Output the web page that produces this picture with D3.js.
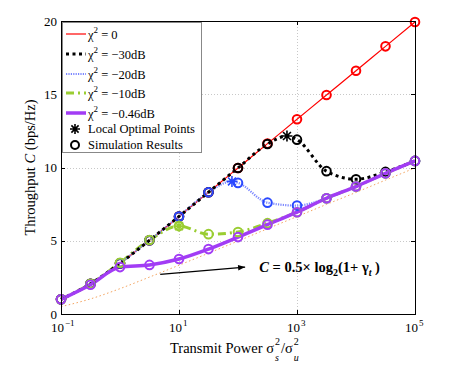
<!DOCTYPE html>
<html>
<head>
<meta charset="utf-8">
<script src="https://cdn.jsdelivr.net/npm/d3@7"></script>
<style>
body { margin: 0; background: #fff; }
text { font-family: "Liberation Serif", "Times New Roman", serif; }
</style>
</head>
<body>
<svg class="chart"></svg>
<script>
// sample points: transmit power (linear), one every half decade
var power = [0.1, 0.316, 1, 3.16, 10, 31.6, 100, 316, 1000, 3162, 10000, 31623, 100000];

// throughput (bps/Hz)
var chi0   = [1.0, 2.06, 3.46, 5.03, 6.66, 8.31, 9.97, 11.63, 13.29, 14.95, 16.6, 18.27, 19.93];
var chi30  = [1.0, 2.06, 3.46, 5.03, 6.66, 8.31, 9.97, 11.6, 11.9, 9.75, 9.2, 9.7, 10.45];
var chi20  = [1.0, 2.06, 3.46, 5.03, 6.66, 8.31, 8.95, 7.6, 7.4, 7.9, 8.7, 9.6, 10.45];
var chi10  = [1.0, 2.06, 3.5, 5.05, 6.0, 5.45, 5.6, 6.2, 6.95, 7.9, 8.7, 9.6, 10.45];
var chi046 = [1.0, 2.0, 3.2, 3.35, 3.75, 4.43, 5.25, 6.1, 6.95, 7.9, 8.7, 9.6, 10.45];
var bound  = [0.5, 1.03, 1.73, 2.52, 3.33, 4.15, 4.98, 5.82, 6.65, 7.48, 8.3, 9.14, 9.97];

// local optimal points (-30dB, -20dB, -10dB)
var optPower = [676, 79, 10];
var optValue = [12.15, 9.05, 6.0];

var yTicks = [0, 5, 10, 15, 20];
var xTicks = [0.1, 10, 1000, 100000];
var xTickExp = ['\u22121', '1', '3', '5'];

var width = 457, height = 367;
var margin = {top: 21, right: 42, bottom: 53, left: 61};
var w = width - margin.left - margin.right,
    h = height - margin.top - margin.bottom;

var svg = d3.select('.chart')
    .attr('width', width)
    .attr('height', height);

var x = d3.scaleLog().domain([0.1, 100000]).range([0, w]),
    y = d3.scaleLinear().domain([0, 20]).range([h, 0]);

var g = svg.append('g')
    .attr('transform', 'translate(' + margin.left + ',' + margin.top + ')');

// grid
g.selectAll('.gx').data(xTicks.slice(1, 3)).enter().append('line')
    .attr('x1', function(d) { return Math.round(x(d)) + 0.5; })
    .attr('x2', function(d) { return Math.round(x(d)) + 0.5; })
    .attr('y1', 0).attr('y2', h)
    .attr('stroke', '#c8c8c8').attr('stroke-dasharray', '1,2');
g.selectAll('.gy').data(yTicks.slice(1, 4)).enter().append('line')
    .attr('y1', function(d) { return Math.round(y(d)) + 0.5; })
    .attr('y2', function(d) { return Math.round(y(d)) + 0.5; })
    .attr('x1', 0).attr('x2', w)
    .attr('stroke', '#c8c8c8').attr('stroke-dasharray', '1,2');

function pts(vals, extra) {
  var p = power.map(function(d, i) { return [d, vals[i]]; });
  if (extra) { p.push(extra); p.sort(function(a, b) { return a[0] - b[0]; }); }
  return p;
}

var line = d3.line()
    .x(function(d) { return x(d[0]); })
    .y(function(d) { return y(d[1]); })
    .curve(d3.curveMonotoneX);

var series = [
  {vals: chi0,   color: '#ff0000', mark: '#ff0000', width: 1.2, dash: null, label: ' = 0'},
  {vals: chi10,  color: '#9acd32', mark: '#9acd32', width: 3, dash: '8,4,2,4', label: ' = \u221210dB', opt: 2},
  {vals: chi20,  color: '#7a86ff', mark: '#2a48ff', width: 2.2, dash: '1.2,1.2', label: ' = \u221220dB', opt: 1},
  {vals: chi30,  color: '#000000', mark: '#000000', width: 3, dash: '3,3.5', label: ' = \u221230dB', opt: 0},
  {vals: chi046, color: '#a23cf5', mark: '#a23cf5', width: 3.5, dash: null, label: ' = \u22120.46dB'}
];

// bound curve
g.append('path')
    .attr('d', line(pts(bound)))
    .attr('fill', 'none').attr('stroke', '#f4a460')
    .attr('stroke-width', 1).attr('stroke-dasharray', '1.5,2.5');

series.forEach(function(s) {
  var extra = s.opt !== undefined ? [optPower[s.opt], optValue[s.opt]] : null;
  g.append('path')
      .attr('d', line(pts(s.vals, extra)))
      .attr('fill', 'none').attr('stroke', s.color)
      .attr('stroke-width', s.width)
      .attr('stroke-dasharray', s.dash);
});

// circles drawn in the figure's plotting order
var order = [0, 3, 2, 1, 4];
order.forEach(function(k) {
  var s = series[k];
  g.selectAll(null).data(pts(s.vals)).enter().append('circle')
      .attr('cx', function(d) { return x(d[0]); })
      .attr('cy', function(d) { return y(d[1]); })
      .attr('r', 4.3)
      .attr('fill', 'none').attr('stroke', s.mark).attr('stroke-width', 2);
});

function star(r) {
  var a = r * 0.72;
  return 'M' + (-r) + ',0L' + r + ',0M0,' + (-r) + 'L0,' + r +
         'M' + (-a) + ',' + (-a) + 'L' + a + ',' + a +
         'M' + (-a) + ',' + a + 'L' + a + ',' + (-a);
}
var starColors = ['#000000', '#2a48ff', '#9acd32'];
g.selectAll('.opt').data(optPower).enter().append('path')
    .attr('transform', function(d, i) { return 'translate(' + x(d) + ',' + y(optValue[i]) + ')'; })
    .attr('d', star(5.5))
    .attr('stroke', function(d, i) { return starColors[i]; })
    .attr('stroke-width', 1.6).attr('fill', 'none');

// axes box and ticks
g.append('rect').attr('x', 0.5).attr('y', 0.5).attr('width', w).attr('height', h)
    .attr('fill', 'none').attr('stroke', '#000').attr('stroke-width', 1);
xTicks.forEach(function(d) {
  var px = Math.round(x(d)) + 0.5;
  g.append('line').attr('x1', px).attr('x2', px).attr('y1', h).attr('y2', h - 4).attr('stroke', '#000');
  g.append('line').attr('x1', px).attr('x2', px).attr('y1', 0).attr('y2', 4).attr('stroke', '#000');
});
yTicks.forEach(function(d) {
  var py = Math.round(y(d)) + 0.5;
  g.append('line').attr('y1', py).attr('y2', py).attr('x1', 0).attr('x2', 4).attr('stroke', '#000');
  g.append('line').attr('y1', py).attr('y2', py).attr('x1', w).attr('x2', w - 4).attr('stroke', '#000');
});

// tick labels
g.selectAll('.yl').data(yTicks).enter().append('text')
    .attr('x', -4).attr('y', function(d) { return y(d) + 4.5; })
    .attr('text-anchor', 'end').attr('font-size', 13)
    .text(function(d) { return d; });

g.selectAll('.xl').data(xTicks).enter().append('text')
    .attr('x', function(d) { return x(d) + 3; })
    .attr('y', h + 18)
    .attr('text-anchor', 'end').attr('font-size', 13)
    .text('10');
g.selectAll('.xe').data(xTicks).enter().append('text')
    .attr('x', function(d) { return x(d) + 4; })
    .attr('y', h + 12)
    .attr('font-size', 9)
    .text(function(d, i) { return xTickExp[i]; });

// axis labels
var xlab = svg.append('text')
    .attr('x', 170).attr('y', 353)
    .attr('font-size', 14.5);
xlab.append('tspan').text('Transmit Power \u03c3');
xlab.append('tspan').attr('dy', 8).attr('dx', 1).attr('font-size', 10).attr('font-style', 'italic').text('s');
xlab.append('tspan').attr('dy', -16).attr('dx', -4).attr('font-size', 10).text('2');
xlab.append('tspan').attr('dy', 8).attr('dx', 1).text('/\u03c3');
xlab.append('tspan').attr('dy', 8).attr('dx', 1).attr('font-size', 10).attr('font-style', 'italic').text('u');
xlab.append('tspan').attr('dy', -16).attr('dx', -5).attr('font-size', 10).text('2');

var ylab = svg.append('text')
    .attr('transform', 'translate(35,' + (margin.top + h / 2) + ') rotate(-90)')
    .attr('text-anchor', 'middle').attr('font-size', 14.5);
ylab.append('tspan').text('Throughput  ');
ylab.append('tspan').attr('font-style', 'italic').text('C');
ylab.append('tspan').text(' (bps/Hz)');

// annotation
var ann = {from: [4.8, 2.7], to: [132, 3.2], text: [229, 2.86]};
svg.append('defs').append('marker')
    .attr('id', 'arr').attr('viewBox', '0 0 10 10').attr('refX', 10).attr('refY', 5)
    .attr('markerWidth', 9).attr('markerHeight', 7).attr('orient', 'auto')
    .attr('markerUnits', 'userSpaceOnUse')
  .append('path').attr('d', 'M0,1L10,5L0,9z').attr('fill', '#000');
g.append('line')
    .attr('x1', x(ann.from[0])).attr('y1', y(ann.from[1]))
    .attr('x2', x(ann.to[0])).attr('y2', y(ann.to[1]))
    .attr('stroke', '#000').attr('stroke-width', 1.3).attr('marker-end', 'url(#arr)');
var at = g.append('text')
    .attr('x', x(ann.text[0])).attr('y', y(ann.text[1]))
    .attr('font-size', 14.5).attr('font-weight', 'bold');
at.append('tspan').attr('font-style', 'italic').text('C');
at.append('tspan').text(' = 0.5\u00d7 log');
at.append('tspan').attr('dy', 4).attr('font-size', 10).text('2');
at.append('tspan').attr('dy', -4).text('(1+ \u03b3');
at.append('tspan').attr('dy', 4).attr('font-size', 10).attr('font-style', 'italic').text('t');
at.append('tspan').attr('dy', -4).text(' )');

// legend
var leg = svg.append('g').attr('transform', 'translate(62,22)');
leg.append('rect').attr('x', 0.5).attr('y', 0.5).attr('width', 139).attr('height', 130)
    .attr('fill', '#fff').attr('stroke', '#888');
var legOrder = [0, 3, 2, 1, 4];
var rowY = [12, 32, 52, 71, 91];
legOrder.forEach(function(k, i) {
  var s = series[k];
  leg.append('line').attr('x1', 4).attr('x2', 24).attr('y1', rowY[i]).attr('y2', rowY[i])
      .attr('stroke', s.color).attr('stroke-width', s.width).attr('stroke-dasharray', s.dash);
  var t = leg.append('text').attr('x', 26).attr('y', rowY[i] + 5).attr('font-size', 12.5);
  t.append('tspan').text('\u03c7');
  t.append('tspan').attr('dy', -6).attr('font-size', 9).text('2');
  t.append('tspan').attr('dy', 6).text(s.label);
});
leg.append('path').attr('transform', 'translate(13,107)').attr('d', star(5))
    .attr('stroke', '#000').attr('stroke-width', 1.6);
leg.append('text').attr('x', 26).attr('y', 111).attr('font-size', 12.5).text('Local Optimal Points');
leg.append('circle').attr('cx', 13).attr('cy', 123).attr('r', 4)
    .attr('fill', 'none').attr('stroke', '#000').attr('stroke-width', 2);
leg.append('text').attr('x', 26).attr('y', 127).attr('font-size', 12.5).text('Simulation Results');
</script>
</body>
</html>
